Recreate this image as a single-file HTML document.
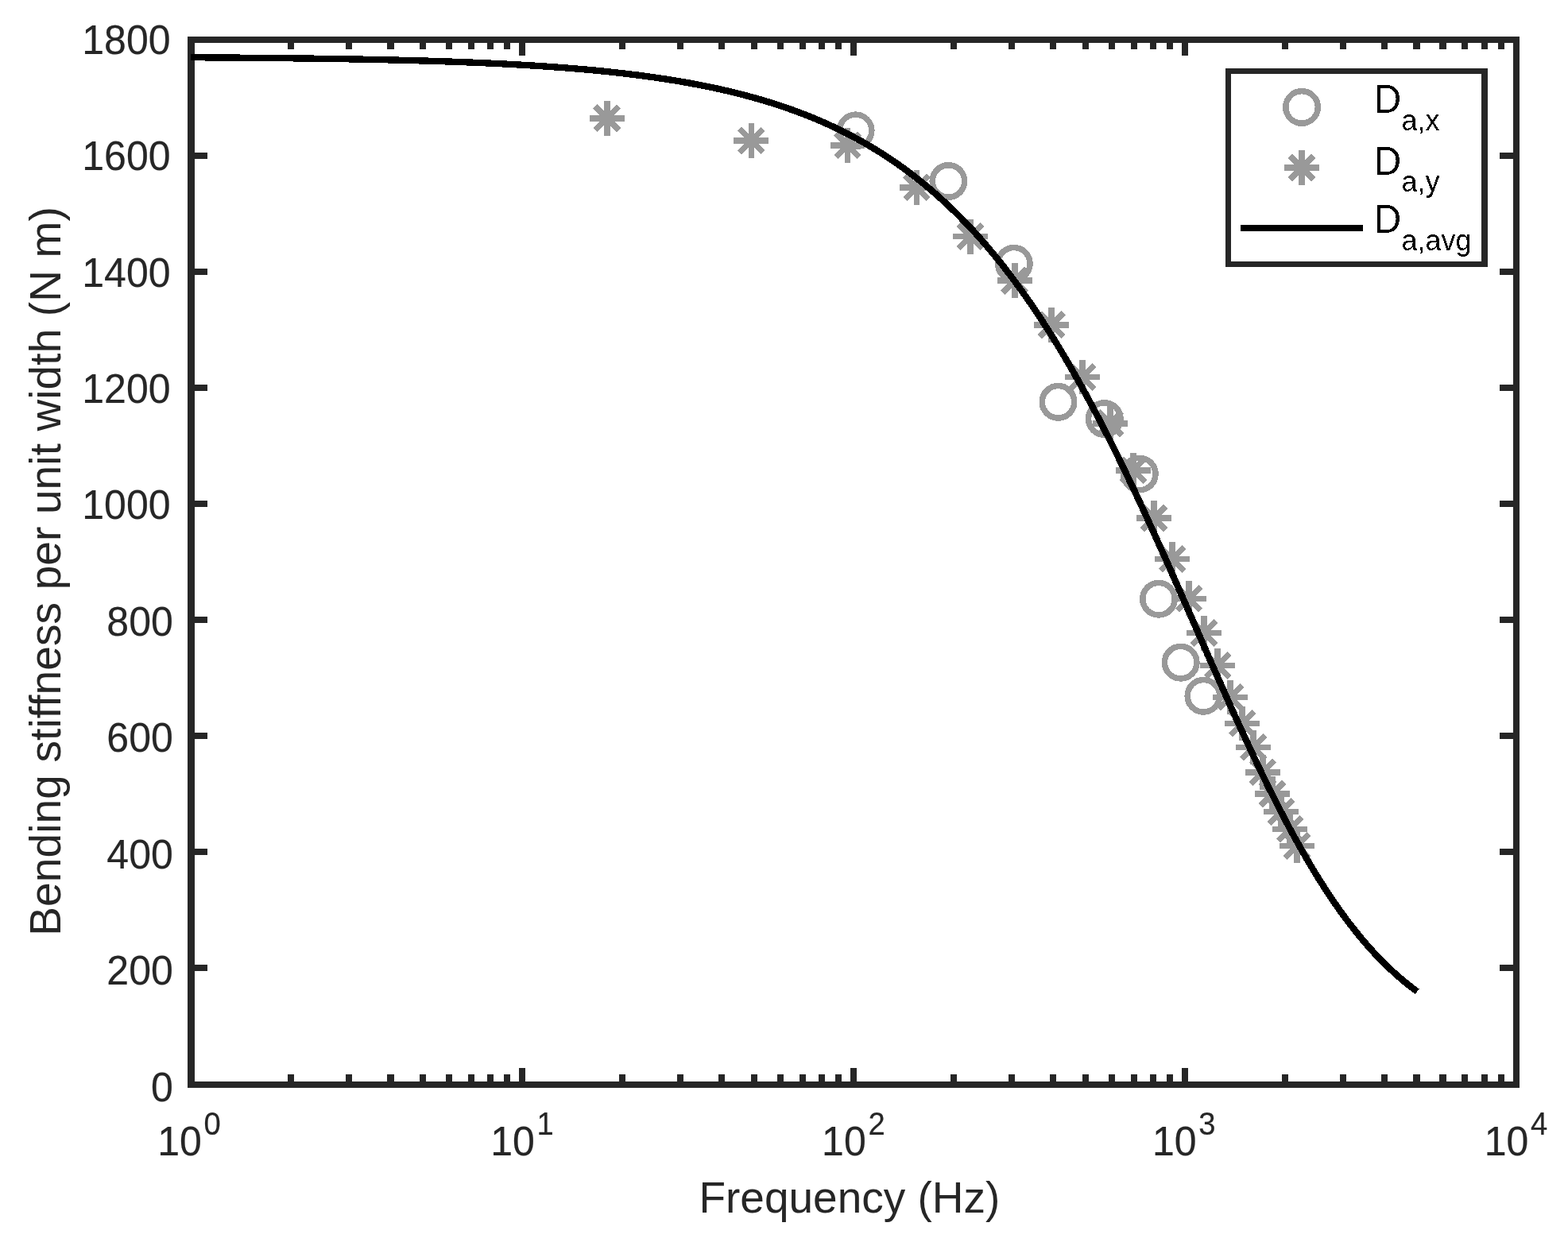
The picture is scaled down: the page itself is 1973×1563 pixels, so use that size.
<!DOCTYPE html>
<html lang="en">
<head>
<meta charset="utf-8">
<title>Bending stiffness per unit width vs frequency</title>
<style>
html,body{margin:0;padding:0;background:#fff;}
body{width:1973px;height:1563px;overflow:hidden;}
svg{display:block;}
text{font-family:"Liberation Sans",Arial,Helvetica,sans-serif;stroke-linejoin:round;}
.tk{font-size:50px;fill:#262626;stroke:#262626;stroke-width:0.2px;}
.sup{font-size:38.2px;}
.lab{font-size:55px;fill:#262626;}
.lg{font-size:47px;fill:#000;}
.sub{font-size:36px;}
</style>
</head>
<body>
<svg width="1973" height="1563" viewBox="0 0 1973 1563">
<defs><filter id="alias" x="-5%" y="-20%" width="110%" height="140%" color-interpolation-filters="sRGB"><feComponentTransfer><feFuncA type="discrete" tableValues="0 1"/></feComponentTransfer></filter></defs>
<rect x="0" y="0" width="1973" height="1563" fill="#ffffff"/>
<g id="axes" fill="#262626" shape-rendering="crispEdges">
<rect x="236" y="46" width="9" height="1323"/>
<rect x="1904" y="46" width="8" height="1323"/>
<rect x="236" y="46" width="1676" height="8"/>
<rect x="236" y="1361" width="1676" height="8"/>
<rect x="244" y="192" width="17" height="8"/>
<rect x="1887" y="192" width="18" height="8"/>
<rect x="244" y="338" width="17" height="8"/>
<rect x="1887" y="338" width="18" height="8"/>
<rect x="244" y="484" width="17" height="8"/>
<rect x="1887" y="484" width="18" height="8"/>
<rect x="244" y="630" width="17" height="8"/>
<rect x="1887" y="630" width="18" height="8"/>
<rect x="244" y="776" width="17" height="8"/>
<rect x="1887" y="776" width="18" height="8"/>
<rect x="244" y="922" width="17" height="8"/>
<rect x="1887" y="922" width="18" height="8"/>
<rect x="244" y="1068" width="17" height="8"/>
<rect x="1887" y="1068" width="18" height="8"/>
<rect x="244" y="1214" width="17" height="8"/>
<rect x="1887" y="1214" width="18" height="8"/>
<rect x="361.94" y="53" width="8.1" height="8.8"/>
<rect x="361.94" y="1352.1" width="8.1" height="10"/>
<rect x="435.35" y="53" width="8.1" height="8.8"/>
<rect x="435.35" y="1352.1" width="8.1" height="10"/>
<rect x="487.43" y="53" width="8.1" height="8.8"/>
<rect x="487.43" y="1352.1" width="8.1" height="10"/>
<rect x="527.83" y="53" width="8.1" height="8.8"/>
<rect x="527.83" y="1352.1" width="8.1" height="10"/>
<rect x="560.84" y="53" width="8.1" height="8.8"/>
<rect x="560.84" y="1352.1" width="8.1" height="10"/>
<rect x="588.75" y="53" width="8.1" height="8.8"/>
<rect x="588.75" y="1352.1" width="8.1" height="10"/>
<rect x="612.93" y="53" width="8.1" height="8.8"/>
<rect x="612.93" y="1352.1" width="8.1" height="10"/>
<rect x="634.25" y="53" width="8.1" height="8.8"/>
<rect x="634.25" y="1352.1" width="8.1" height="10"/>
<rect x="653.33" y="53" width="8.1" height="16.6"/>
<rect x="653.33" y="1344" width="8.1" height="18"/>
<rect x="778.82" y="53" width="8.1" height="8.8"/>
<rect x="778.82" y="1352.1" width="8.1" height="10"/>
<rect x="852.22" y="53" width="8.1" height="8.8"/>
<rect x="852.22" y="1352.1" width="8.1" height="10"/>
<rect x="904.31" y="53" width="8.1" height="8.8"/>
<rect x="904.31" y="1352.1" width="8.1" height="10"/>
<rect x="944.71" y="53" width="8.1" height="8.8"/>
<rect x="944.71" y="1352.1" width="8.1" height="10"/>
<rect x="977.72" y="53" width="8.1" height="8.8"/>
<rect x="977.72" y="1352.1" width="8.1" height="10"/>
<rect x="1005.63" y="53" width="8.1" height="8.8"/>
<rect x="1005.63" y="1352.1" width="8.1" height="10"/>
<rect x="1029.8" y="53" width="8.1" height="8.8"/>
<rect x="1029.8" y="1352.1" width="8.1" height="10"/>
<rect x="1051.12" y="53" width="8.1" height="8.8"/>
<rect x="1051.12" y="1352.1" width="8.1" height="10"/>
<rect x="1070.2" y="53" width="8.1" height="16.6"/>
<rect x="1070.2" y="1344" width="8.1" height="18"/>
<rect x="1195.69" y="53" width="8.1" height="8.8"/>
<rect x="1195.69" y="1352.1" width="8.1" height="10"/>
<rect x="1269.1" y="53" width="8.1" height="8.8"/>
<rect x="1269.1" y="1352.1" width="8.1" height="10"/>
<rect x="1321.18" y="53" width="8.1" height="8.8"/>
<rect x="1321.18" y="1352.1" width="8.1" height="10"/>
<rect x="1361.58" y="53" width="8.1" height="8.8"/>
<rect x="1361.58" y="1352.1" width="8.1" height="10"/>
<rect x="1394.59" y="53" width="8.1" height="8.8"/>
<rect x="1394.59" y="1352.1" width="8.1" height="10"/>
<rect x="1422.5" y="53" width="8.1" height="8.8"/>
<rect x="1422.5" y="1352.1" width="8.1" height="10"/>
<rect x="1446.68" y="53" width="8.1" height="8.8"/>
<rect x="1446.68" y="1352.1" width="8.1" height="10"/>
<rect x="1468" y="53" width="8.1" height="8.8"/>
<rect x="1468" y="1352.1" width="8.1" height="10"/>
<rect x="1487.08" y="53" width="8.1" height="16.6"/>
<rect x="1487.08" y="1344" width="8.1" height="18"/>
<rect x="1612.57" y="53" width="8.1" height="8.8"/>
<rect x="1612.57" y="1352.1" width="8.1" height="10"/>
<rect x="1685.97" y="53" width="8.1" height="8.8"/>
<rect x="1685.97" y="1352.1" width="8.1" height="10"/>
<rect x="1738.06" y="53" width="8.1" height="8.8"/>
<rect x="1738.06" y="1352.1" width="8.1" height="10"/>
<rect x="1778.46" y="53" width="8.1" height="8.8"/>
<rect x="1778.46" y="1352.1" width="8.1" height="10"/>
<rect x="1811.47" y="53" width="8.1" height="8.8"/>
<rect x="1811.47" y="1352.1" width="8.1" height="10"/>
<rect x="1839.38" y="53" width="8.1" height="8.8"/>
<rect x="1839.38" y="1352.1" width="8.1" height="10"/>
<rect x="1863.55" y="53" width="8.1" height="8.8"/>
<rect x="1863.55" y="1352.1" width="8.1" height="10"/>
<rect x="1884.87" y="53" width="8.1" height="8.8"/>
<rect x="1884.87" y="1352.1" width="8.1" height="10"/>
</g>
<g id="series-dax" fill="none" stroke="#999999" stroke-width="7.5" shape-rendering="crispEdges">
<circle cx="1076.6" cy="164.4" r="20.25"/>
<circle cx="1193.4" cy="228.0" r="20.25"/>
<circle cx="1275.8" cy="331.8" r="20.25"/>
<circle cx="1331.5" cy="505.8" r="20.25"/>
<circle cx="1389.8" cy="527.1" r="20.25"/>
<circle cx="1433.8" cy="596.5" r="20.25"/>
<circle cx="1458.0" cy="753.7" r="20.25"/>
<circle cx="1485.7" cy="833.7" r="20.25"/>
<circle cx="1514.4" cy="875.8" r="20.25"/>
</g>
<g id="series-day" fill="none" stroke="#999999" shape-rendering="crispEdges">
<path stroke-width="7.6" d="M741.8 148.8h43.8M763.7 126.9v43.8M923.4 177.0h43.8M945.3 155.1v43.8M1044.6 182.7h43.8M1066.5 160.8v43.8M1131.6 235.8h43.8M1153.5 213.9v43.8M1199.1 297.6h43.8M1221.0 275.7v43.8M1254.8 353.2h43.8M1276.7 331.3v43.8M1301.3 408.8h43.8M1323.2 386.9v43.8M1340.3 474.5h43.8M1362.2 452.6v43.8M1374.9 532.7h43.8M1396.8 510.8v43.8M1404.1 591.8h43.8M1426.0 569.9v43.8M1430.1 651.9h43.8M1452.0 630.0v43.8M1453.2 703.4h43.8M1475.1 681.5v43.8M1474.1 753.3h43.8M1496.0 731.4v43.8M1493.2 796.6h43.8M1515.1 774.7v43.8M1510.3 837.4h43.8M1532.2 815.5v43.8M1526.2 877.4h43.8M1548.1 855.5v43.8M1541.2 910.5h43.8M1563.1 888.6v43.8M1555.2 940.4h43.8M1577.1 918.5v43.8M1567.1 971.8h43.8M1589.0 949.9v43.8M1579.1 999.0h43.8M1601.0 977.1v43.8M1590.1 1021.5h43.8M1612.0 999.6v43.8M1601.1 1043.4h43.8M1623.0 1021.5v43.8M1610.1 1064.5h43.8M1632.0 1042.6v43.8"/>
<path stroke-width="7.3" d="M748.9 134.0l29.6 29.6M748.9 163.6l29.6 -29.6M930.5 162.2l29.6 29.6M930.5 191.8l29.6 -29.6M1051.7 167.9l29.6 29.6M1051.7 197.5l29.6 -29.6M1138.7 221.0l29.6 29.6M1138.7 250.6l29.6 -29.6M1206.2 282.8l29.6 29.6M1206.2 312.4l29.6 -29.6M1261.9 338.4l29.6 29.6M1261.9 368.0l29.6 -29.6M1308.4 394.0l29.6 29.6M1308.4 423.6l29.6 -29.6M1347.4 459.7l29.6 29.6M1347.4 489.3l29.6 -29.6M1382.0 517.9l29.6 29.6M1382.0 547.5l29.6 -29.6M1411.2 577.0l29.6 29.6M1411.2 606.6l29.6 -29.6M1437.2 637.1l29.6 29.6M1437.2 666.7l29.6 -29.6M1460.3 688.6l29.6 29.6M1460.3 718.2l29.6 -29.6M1481.2 738.5l29.6 29.6M1481.2 768.1l29.6 -29.6M1500.3 781.8l29.6 29.6M1500.3 811.4l29.6 -29.6M1517.4 822.6l29.6 29.6M1517.4 852.2l29.6 -29.6M1533.3 862.6l29.6 29.6M1533.3 892.2l29.6 -29.6M1548.3 895.7l29.6 29.6M1548.3 925.3l29.6 -29.6M1562.3 925.6l29.6 29.6M1562.3 955.2l29.6 -29.6M1574.2 957.0l29.6 29.6M1574.2 986.6l29.6 -29.6M1586.2 984.2l29.6 29.6M1586.2 1013.8l29.6 -29.6M1597.2 1006.7l29.6 29.6M1597.2 1036.3l29.6 -29.6M1608.2 1028.6l29.6 29.6M1608.2 1058.2l29.6 -29.6M1617.2 1049.7l29.6 29.6M1617.2 1079.3l29.6 -29.6"/>
</g>
<path id="series-davg" d="M240.0 72.24L251.0 72.30L262.0 72.37L273.0 72.45L284.0 72.53L295.0 72.61L306.0 72.70L317.0 72.80L328.0 72.90L339.0 73.01L350.0 73.12L361.0 73.24L372.0 73.37L383.0 73.51L394.0 73.65L405.0 73.81L416.0 73.97L427.0 74.15L438.0 74.33L449.0 74.53L460.0 74.74L471.0 74.96L482.0 75.20L493.0 75.45L504.0 75.72L515.0 76.00L526.0 76.30L537.0 76.62L548.0 76.96L559.0 77.32L570.0 77.71L581.0 78.11L592.0 78.55L603.0 79.01L614.0 79.49L625.0 80.01L636.0 80.56L647.0 81.15L658.0 81.77L669.0 82.43L680.0 83.13L691.0 83.88L702.0 84.67L713.0 85.51L724.0 86.40L735.0 87.34L746.0 88.35L757.0 89.42L768.0 90.55L779.0 91.75L790.0 93.03L801.0 94.38L812.0 95.82L823.0 97.35L834.0 98.97L845.0 100.69L856.0 102.51L867.0 104.44L878.0 106.49L889.0 108.67L900.0 110.98L903.4 111.72L906.8 112.48L910.2 113.25L913.6 114.03L917.1 114.83L920.5 115.65L923.9 116.48L927.3 117.32L930.7 118.18L934.1 119.05L937.5 119.94L940.9 120.85L944.3 121.78L947.7 122.72L951.2 123.67L954.6 124.65L958.0 125.64L961.4 126.65L964.8 127.68L968.2 128.73L971.6 129.79L975.0 130.88L978.4 131.98L981.8 133.11L985.3 134.25L988.7 135.42L992.1 136.60L995.5 137.81L998.9 139.04L1002.3 140.29L1005.7 141.56L1009.1 142.86L1012.5 144.18L1015.9 145.52L1019.4 146.89L1022.8 148.28L1026.2 149.69L1029.6 151.13L1033.0 152.60L1036.4 154.09L1039.8 155.61L1043.2 157.15L1046.6 158.72L1050.0 160.32L1053.5 161.95L1056.9 163.60L1060.3 165.28L1063.7 167.00L1067.1 168.74L1070.5 170.51L1073.9 172.32L1077.3 174.15L1080.7 176.02L1084.1 177.92L1087.6 179.85L1091.0 181.81L1094.4 183.81L1097.8 185.84L1101.2 187.90L1104.6 190.00L1108.0 192.14L1111.4 194.31L1114.8 196.52L1118.2 198.77L1121.7 201.05L1125.1 203.37L1128.5 205.73L1131.9 208.13L1135.3 210.57L1138.7 213.05L1142.1 215.57L1145.5 218.13L1148.9 220.74L1152.3 223.38L1155.8 226.07L1159.2 228.81L1162.6 231.58L1166.0 234.41L1169.4 237.27L1172.8 240.19L1176.2 243.14L1179.6 246.15L1183.0 249.20L1186.4 252.31L1189.9 255.46L1193.3 258.66L1196.7 261.91L1200.1 265.21L1203.5 268.56L1206.9 271.96L1210.3 275.41L1213.7 278.92L1217.1 282.48L1220.5 286.09L1224.0 289.76L1227.4 293.48L1230.8 297.26L1234.2 301.09L1237.6 304.98L1241.0 308.93L1244.4 312.93L1247.8 316.99L1251.2 321.11L1254.6 325.28L1258.1 329.52L1261.5 333.82L1264.9 338.17L1268.3 342.59L1271.7 347.06L1275.1 351.60L1278.5 356.20L1281.9 360.86L1285.3 365.58L1288.7 370.36L1292.2 375.21L1295.6 380.12L1299.0 385.09L1302.4 390.13L1305.8 395.23L1309.2 400.39L1312.6 405.62L1316.0 410.91L1319.4 416.26L1322.8 421.68L1326.3 427.16L1329.7 432.71L1333.1 438.32L1336.5 444.00L1339.9 449.73L1343.3 455.54L1346.7 461.40L1350.1 467.33L1353.5 473.32L1356.9 479.38L1360.4 485.49L1363.8 491.67L1367.2 497.91L1370.6 504.22L1374.0 510.58L1377.4 517.00L1380.8 523.48L1384.2 530.02L1387.6 536.62L1391.0 543.28L1394.5 549.99L1397.9 556.76L1401.3 563.58L1404.7 570.46L1408.1 577.39L1411.5 584.37L1414.9 591.41L1418.3 598.49L1421.7 605.62L1425.1 612.80L1428.6 620.02L1432.0 627.29L1435.4 634.60L1438.8 641.95L1442.2 649.34L1445.6 656.77L1449.0 664.23L1452.4 671.73L1455.8 679.27L1459.2 686.83L1462.7 694.43L1466.1 702.05L1469.5 709.69L1472.9 717.36L1476.3 725.06L1479.7 732.77L1483.1 740.49L1486.5 748.24L1489.9 755.99L1493.3 763.76L1496.8 771.53L1500.2 779.31L1503.6 787.09L1507.0 794.87L1510.4 802.66L1513.8 810.43L1517.2 818.21L1520.6 825.97L1524.0 833.72L1527.4 841.46L1530.9 849.18L1534.3 856.88L1537.7 864.56L1541.1 872.22L1544.5 879.85L1547.9 887.45L1551.3 895.02L1554.7 902.55L1558.1 910.05L1561.5 917.51L1565.0 924.93L1568.4 932.30L1571.8 939.63L1575.2 946.91L1578.6 954.14L1582.0 961.32L1585.4 968.44L1588.8 975.51L1592.2 982.51L1595.6 989.46L1599.1 996.34L1602.5 1003.15L1605.9 1009.90L1609.3 1016.58L1612.7 1023.19L1616.1 1029.73L1619.5 1036.19L1622.9 1042.58L1626.3 1048.89L1629.7 1055.12L1633.2 1061.28L1636.6 1067.35L1640.0 1073.34L1643.4 1079.25L1646.8 1085.08L1650.2 1090.82L1653.6 1096.47L1657.0 1102.04L1660.4 1107.53L1663.8 1112.92L1667.3 1118.23L1670.7 1123.45L1674.1 1128.58L1677.5 1133.62L1680.9 1138.57L1684.3 1143.44L1687.7 1148.21L1691.1 1152.90L1694.5 1157.49L1697.9 1162.00L1701.4 1166.42L1704.8 1170.76L1708.2 1175.00L1711.6 1179.16L1715.0 1183.23L1718.4 1187.22L1721.8 1191.12L1725.2 1194.93L1728.6 1198.67L1732.0 1202.31L1735.5 1205.88L1738.9 1209.37L1742.3 1212.77L1745.7 1216.10L1749.1 1219.35L1752.5 1222.52L1755.9 1225.61L1759.3 1228.63L1762.7 1231.58L1766.1 1234.45L1769.6 1237.26L1773.0 1239.99L1776.4 1242.65L1779.8 1245.25L1783.2 1247.78" fill="none" stroke="#000" stroke-width="8.33" stroke-linejoin="round" shape-rendering="crispEdges"/>
<g id="yticklabels" class="tk" text-anchor="end">
<text transform="translate(214.5 67.65) scale(1 1.05)">1800</text>
<text transform="translate(214.5 214.09) scale(1 1.05)">1600</text>
<text transform="translate(214.5 360.53) scale(1 1.05)">1400</text>
<text transform="translate(214.5 506.97) scale(1 1.05)">1200</text>
<text transform="translate(214.5 653.41) scale(1 1.05)">1000</text>
<text transform="translate(217.75 799.85) scale(1 1.05)">800</text>
<text transform="translate(217.75 946.29) scale(1 1.05)">600</text>
<text transform="translate(217.75 1092.73) scale(1 1.05)">400</text>
<text transform="translate(217.75 1239.17) scale(1 1.05)">200</text>
<text transform="translate(217.75 1385.61) scale(1 1.05)">0</text>
</g>
<g id="xticklabels">
<text class="tk" transform="translate(198.25 1453.7) scale(1 1.05)">10<tspan class="sup" dx="2.7" dy="-24.4">0</tspan></text>
<text class="tk" transform="translate(617.15 1453.7) scale(1 1.05)">10<tspan class="sup" dx="2.7" dy="-24.4">1</tspan></text>
<text class="tk" transform="translate(1034.1 1453.7) scale(1 1.05)">10<tspan class="sup" dx="2.7" dy="-24.4">2</tspan></text>
<text class="tk" transform="translate(1450 1453.7) scale(1 1.05)">10<tspan class="sup" dx="2.7" dy="-24.4">3</tspan></text>
<text class="tk" transform="translate(1867.8 1453.7) scale(1 1.05)">10<tspan class="sup" dx="2.7" dy="-24.4">4</tspan></text>
</g>
<text id="xlabel" class="lab" text-anchor="middle" transform="translate(1068.9 1525.6)">Frequency (Hz)</text>
<text id="ylabel" class="lab" text-anchor="middle" letter-spacing="0.12" transform="translate(75.7 718.9) rotate(-90)">Bending stiffness per unit width (N m)</text>
<g id="legend" shape-rendering="crispEdges">
<rect x="1542.1" y="86.1" width="329.8" height="249.6" fill="#ffffff"/>
<path fill="#262626" fill-rule="evenodd" d="M1542.1 86.1H1871.9V335.7H1542.1ZM1549 92.7V329H1864.1V92.7Z"/>
<circle cx="1638.05" cy="134.95" r="20.25" fill="none" stroke="#999999" stroke-width="7.5"/>
<path d="M1616.1 210.9h43.8M1638.0 189.0v43.8" fill="none" stroke="#999999" stroke-width="7.6"/>
<path d="M1623.2 196.1l29.6 29.6M1623.2 225.7l29.6 -29.6" fill="none" stroke="#999999" stroke-width="7.3"/>
<path d="M1560.9 287.05H1715" fill="none" stroke="#000" stroke-width="8.33"/>
<text class="lg" filter="url(#alias)" transform="translate(1729.15 141.7) scale(1 1.05)">D<tspan class="sub" x="34.25" dy="21.05">a,x</tspan></text>
<text class="lg" filter="url(#alias)" transform="translate(1729.15 219.6) scale(1 1.05)">D<tspan class="sub" x="34.25" dy="20.19">a,y</tspan></text>
<text class="lg" filter="url(#alias)" transform="translate(1729.15 292.8) scale(1 1.05)">D<tspan class="sub" x="34.25" dy="21.05">a,avg</tspan></text>
</g>
</svg>
</body>
</html>
